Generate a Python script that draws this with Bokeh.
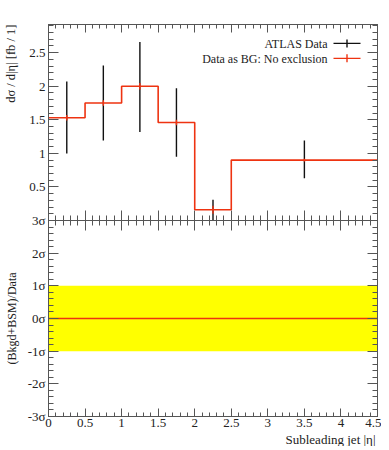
import numpy as np
from bokeh.plotting import figure
from bokeh.layouts import row
from bokeh.models import (Range1d, LinearAxis, FixedTicker, CustomJSTickFormatter, Label, Title)
from bokeh.embed import file_html
from bokeh.resources import INLINE

# ---------------- data ----------------
bin_edges = [0.0, 0.5, 1.0, 1.5, 2.0, 2.5, 4.5]
data_val = [1.53, 1.75, 2.00, 1.46, 0.16, 0.90]
data_lo = [1.00, 1.19, 1.32, 0.95, 0.00, 0.63]
data_hi = [2.07, 2.31, 2.66, 1.97, 0.31, 1.19]
mc_val = [1.53, 1.75, 2.00, 1.46, 0.16, 0.90]
mc_err = [0.04, 0.04, 0.05, 0.04, 0.06, 0.02]
ratio_sigma = [0.0, 0.0, 0.0, 0.0, 0.0, 0.0]
band_lo, band_hi = -1.0, 1.0

x_ticks = [0.0, 0.5, 1.0, 1.5, 2.0, 2.5, 3.0, 3.5, 4.0, 4.5]
x_tick_labels = ["0", "0.5", "1", "1.5", "2", "2.5", "3", "3.5", "4", "4.5"]
y_ticks = [0.5, 1.0, 1.5, 2.0, 2.5]
y_tick_labels = ["0.5", "1", "1.5", "2", "2.5"]
ratio_ticks = [-3, -2, -1, 0, 1, 2, 3]
ratio_tick_labels = ["-3σ", "-2σ", "-1σ", "0σ", "1σ", "2σ", "3σ"]
legend_labels = ["ATLAS Data", "Data as BG: No exclusion"]
x_title = "Subleading jet |η|"
y_title_top = "dσ / d|η| [fb / 1]"
y_title_bottom = "(Bkgd+BSM)/Data"

# ---------------- style ----------------
FONT = "Liberation Serif"
RED = "#EE3311"
AXC = "#555555"
TXT = "#222222"
YMAX = 2.92
FW, FH = 329, 394
TW = 20                      # width of the strip holding the y titles
BL, BR, BT, BB = 28, 4, 24, 28
px_x = (bin_edges[-1] - bin_edges[0]) / FW
px_y = 2 * YMAX / FH


def r2m(r):
    # ratio-panel coordinate -> main y coordinate
    return -YMAX + (r + 3.0) / 12.0 * 2 * YMAX


p = figure(width=BL + FW + BR, height=BT + FH + BB, output_backend="svg",
           toolbar_location=None, tools="",
           x_range=Range1d(bin_edges[0], bin_edges[-1]),
           y_range=Range1d(-YMAX, YMAX),
           x_axis_location=None, y_axis_location=None,
           min_border_left=BL, min_border_right=BR, min_border_top=BT,
           min_border_bottom=BB)
p.extra_y_ranges = {"ratio": Range1d(-3, 9)}
p.xgrid.visible = False
p.ygrid.visible = False
p.outline_line_color = AXC
p.background_fill_color = "white"
p.border_fill_color = "white"

# tickers
x_minor = [round(v, 2) for v in np.arange(0, 4.5001, 0.1)]
y_minor_top = [round(v, 2) for v in np.arange(0, 2.9001, 0.1)]
y_minor_bot = [r2m(v) for v in np.arange(-3, 3.0001, 0.2)]
y_major_all = list(y_ticks) + [r2m(r) for r in ratio_ticks]
y_labels_all = list(y_tick_labels) + list(ratio_tick_labels)

fmt_code = """
let i = -1;
for (let k = 0; k < tks.length; k++) { if (Math.abs(tks[k] - tick) < 1e-6) { i = k; break; } }
return i >= 0 ? lbl[i] : "";
"""
xfmt = CustomJSTickFormatter(args=dict(tks=x_ticks, lbl=x_tick_labels), code=fmt_code)
yfmt = CustomJSTickFormatter(args=dict(tks=y_major_all, lbl=y_labels_all), code=fmt_code)
blank = CustomJSTickFormatter(code='return "";')


def style_axis(ax, tin, tout, mtin, mtout, show_labels, standoff=3):
    ax.axis_line_color = AXC
    ax.major_tick_line_color = AXC
    ax.minor_tick_line_color = AXC
    ax.major_tick_in = tin
    ax.major_tick_out = tout
    ax.minor_tick_in = mtin
    ax.minor_tick_out = mtout
    ax.major_label_text_font = FONT
    ax.major_label_text_color = TXT
    if show_labels:
        ax.major_label_text_font_size = "13px"
        ax.major_label_standoff = standoff
    else:
        ax.formatter = blank
        ax.major_label_standoff = 0


left = LinearAxis(ticker=FixedTicker(ticks=y_major_all, minor_ticks=y_minor_top + y_minor_bot),
                  formatter=yfmt)
style_axis(left, 10, 0, 5, 0, True, 3)
p.add_layout(left, "left")

right = LinearAxis(ticker=FixedTicker(ticks=y_major_all, minor_ticks=y_minor_top + y_minor_bot))
style_axis(right, 10, 0, 5, 0, False)
p.add_layout(right, "right")

bottom = LinearAxis(ticker=FixedTicker(ticks=x_ticks, minor_ticks=x_minor), formatter=xfmt)
style_axis(bottom, 8, 0, 4, 0, True, 2)
p.add_layout(bottom, "below")

top = LinearAxis(ticker=FixedTicker(ticks=x_ticks, minor_ticks=x_minor))
style_axis(top, 8, 0, 4, 0, False)
p.add_layout(top, "above")

mid = LinearAxis(ticker=FixedTicker(ticks=x_ticks, minor_ticks=x_minor), fixed_location=0)
style_axis(mid, 10, 10, 5, 5, False)
p.add_layout(mid, "below")

p.add_layout(Title(text=x_title, align="right", offset=2, standoff=0,
                   text_font=FONT, text_font_size="13px", text_font_style="normal",
                   text_color=TXT), "below")

# ---------------- upper panel ----------------
centers = [(a + b) / 2 for a, b in zip(bin_edges[:-1], bin_edges[1:])]
p.segment(x0=centers, y0=data_lo, x1=centers, y1=data_hi, line_color="#111111", line_width=1.4)
p.step(x=bin_edges, y=mc_val + [mc_val[-1]], mode="after", line_color=RED, line_width=1.6)
p.segment(x0=centers, y0=[v - e for v, e in zip(mc_val, mc_err)],
          x1=centers, y1=[v + e for v, e in zip(mc_val, mc_err)], line_color=RED, line_width=1.4)

# ---------------- lower panel ----------------
p.quad(left=bin_edges[0], right=bin_edges[-1], bottom=band_lo, top=band_hi,
       fill_color="#FFFF00", line_color=None, y_range_name="ratio")
p.step(x=bin_edges, y=ratio_sigma + [ratio_sigma[-1]], mode="after",
       line_color=RED, line_width=1.6, y_range_name="ratio")

# ---------------- legend ----------------
leg_colors = ["#111111", RED]
for i, (lab, col) in enumerate(zip(legend_labels, leg_colors)):
    dy = 19 + 15 * i
    p.add_layout(Label(x=bin_edges[-1], y=YMAX, x_offset=-50, y_offset=-dy, text=lab,
                       text_align="right", text_baseline="middle",
                       text_font=FONT, text_font_size="12px", text_color=TXT))
    yy = YMAX - dy * px_y
    p.segment(x0=[bin_edges[-1] - 44 * px_x], y0=[yy], x1=[bin_edges[-1] - 17 * px_x], y1=[yy],
              line_color=col, line_width=1.4)
    xm = bin_edges[-1] - 30.5 * px_x
    p.segment(x0=[xm], y0=[yy - 4 * px_y], x1=[xm], y1=[yy + 4 * px_y],
              line_color=col, line_width=1.4)

# ---------------- y-title strip ----------------
t = figure(width=TW, height=BT + FH + BB, output_backend="svg",
           toolbar_location=None, tools="",
           x_range=Range1d(0, TW), y_range=Range1d(-YMAX, YMAX),
           x_axis_location=None, y_axis_location=None,
           min_border_left=0, min_border_right=0, min_border_top=BT,
           min_border_bottom=BB)
t.extra_y_ranges = {"ratio": Range1d(-3, 9)}
t.xgrid.visible = False
t.ygrid.visible = False
t.outline_line_color = None
t.background_fill_color = "white"
t.border_fill_color = "white"
t.add_layout(Label(x=10, y=YMAX, y_offset=0, text=y_title_top,
                   angle=np.pi / 2, text_align="right", text_baseline="middle",
                   text_font=FONT, text_font_size="12.5px", text_color=TXT))
t.add_layout(Label(x=11, y=0, text=y_title_bottom, y_range_name="ratio",
                   angle=np.pi / 2, text_align="center", text_baseline="middle",
                   text_font=FONT, text_font_size="12px", text_color=TXT))

layout = row(t, p, spacing=0)
open("out.html", "w").write(file_html(layout, INLINE))
